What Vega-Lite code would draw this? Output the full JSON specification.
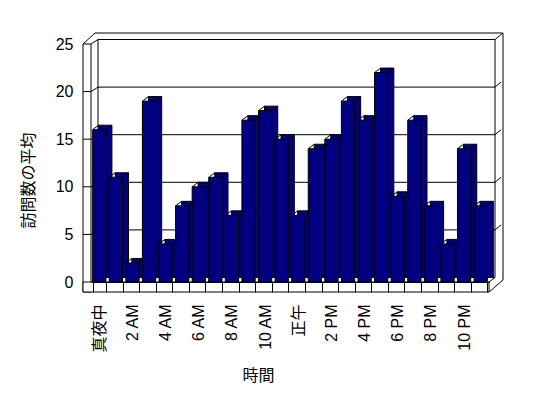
{
  "$schema": "https://vega.github.io/schema/vega-lite/v6.json",
  "width": 398,
  "height": 238,
  "autosize": {"type": "none"},
  "padding": {"left": 91, "top": 44, "right": 59, "bottom": 116},
  "background": "white",
  "config": {"view": {"stroke": null}, "font": "Liberation Sans"},
  "datasets": {
    "visits": [
      {"hour": "真夜中", "visits": 16},
      {"hour": "1 AM", "visits": 11},
      {"hour": "2 AM", "visits": 2},
      {"hour": "3 AM", "visits": 19},
      {"hour": "4 AM", "visits": 4},
      {"hour": "5 AM", "visits": 8},
      {"hour": "6 AM", "visits": 10},
      {"hour": "7 AM", "visits": 11},
      {"hour": "8 AM", "visits": 7},
      {"hour": "9 AM", "visits": 17},
      {"hour": "10 AM", "visits": 18},
      {"hour": "11 AM", "visits": 15},
      {"hour": "正午", "visits": 7},
      {"hour": "1 PM", "visits": 14},
      {"hour": "2 PM", "visits": 15},
      {"hour": "3 PM", "visits": 19},
      {"hour": "4 PM", "visits": 17},
      {"hour": "5 PM", "visits": 22},
      {"hour": "6 PM", "visits": 9},
      {"hour": "7 PM", "visits": 17},
      {"hour": "8 PM", "visits": 8},
      {"hour": "9 PM", "visits": 4},
      {"hour": "10 PM", "visits": 14},
      {"hour": "11 PM", "visits": 8}
    ],
    "grid": [{"v": 5}, {"v": 10}, {"v": 15}, {"v": 20}],
    "one": [{}]
  },
  "resolve": {"scale": {"x": "independent"}, "axis": {"x": "independent"}},
  "layer": [
    {
      "data": {"name": "one"},
      "mark": {"type": "rect", "fill": "white", "stroke": "black", "strokeWidth": 1, "xOffset": 7, "x2Offset": 6, "yOffset": -4.5, "y2Offset": -4.5},
      "encoding": {
        "x": {"datum": 0, "type": "quantitative", "scale": {"domain": [0, 24], "nice": false, "zero": false}, "axis": null},
        "x2": {"datum": 24},
        "y": {"datum": 0, "type": "quantitative"},
        "y2": {"datum": 25}
      }
    },
    {
      "data": {"name": "one"},
      "mark": {"type": "rule", "color": "black", "strokeWidth": 1, "xOffset": 4, "x2Offset": 14, "yOffset": -11},
      "encoding": {
        "x": {"datum": 0, "type": "quantitative", "scale": {"domain": [0, 24], "nice": false, "zero": false}, "axis": null},
        "x2": {"datum": 24},
        "y": {"datum": 25, "type": "quantitative"}
      }
    },
    {
      "data": {"name": "one"},
      "mark": {"type": "rule", "color": "black", "strokeWidth": 1, "xOffset": 14, "yOffset": -11, "y2Offset": -2},
      "encoding": {
        "x": {"datum": 24, "type": "quantitative", "scale": {"domain": [0, 24], "nice": false, "zero": false}, "axis": null},
        "y": {"datum": 25, "type": "quantitative"},
        "y2": {"datum": 0}
      }
    },
    {
      "data": {"name": "one"},
      "mark": {"type": "rule", "color": "black", "strokeWidth": 1, "xOffset": 6, "x2Offset": 14, "yOffset": -4.5, "y2Offset": -11},
      "encoding": {
        "x": {"datum": 24, "type": "quantitative", "scale": {"domain": [0, 24], "nice": false, "zero": false}, "axis": null},
        "x2": {"datum": 24},
        "y": {"datum": 25, "type": "quantitative"},
        "y2": {"datum": 25}
      }
    },
    {
      "data": {"name": "one"},
      "mark": {"type": "rule", "color": "black", "strokeWidth": 1, "xOffset": -8, "x2Offset": 4, "y2Offset": -11},
      "encoding": {
        "x": {"datum": 0, "type": "quantitative", "scale": {"domain": [0, 24], "nice": false, "zero": false}, "axis": null},
        "x2": {"datum": 0},
        "y": {"datum": 25, "type": "quantitative"},
        "y2": {"datum": 25}
      }
    },
    {
      "data": {"name": "one"},
      "mark": {"type": "rule", "color": "black", "strokeWidth": 1, "x2Offset": 7, "y2Offset": -4.5},
      "encoding": {
        "x": {"datum": 0, "type": "quantitative", "scale": {"domain": [0, 24], "nice": false, "zero": false}, "axis": null},
        "x2": {"datum": 0},
        "y": {"datum": 25, "type": "quantitative"},
        "y2": {"datum": 25}
      }
    },
    {
      "data": {"name": "one"},
      "mark": {"type": "rect", "fill": "white", "stroke": "black", "strokeWidth": 1, "xOffset": -8, "y2Offset": 10},
      "encoding": {
        "x": {"datum": 0, "type": "quantitative", "scale": {"domain": [0, 24], "nice": false, "zero": false}, "axis": null},
        "x2": {"datum": 0},
        "y": {"datum": 25, "type": "quantitative"},
        "y2": {"datum": 0}
      }
    },
    {
      "data": {"name": "grid"},
      "mark": {"type": "rule", "color": "black", "strokeWidth": 1, "xOffset": 7, "x2Offset": 6, "yOffset": -4.5},
      "encoding": {
        "x": {"datum": 0, "type": "quantitative", "scale": {"domain": [0, 24], "nice": false, "zero": false}, "axis": null},
        "x2": {"datum": 24},
        "y": {"field": "v", "type": "quantitative", "title": "訪問数の平均"}
      }
    },
    {
      "data": {"name": "grid"},
      "mark": {"type": "rule", "color": "black", "strokeWidth": 1, "x2Offset": 7, "y2Offset": -4.5},
      "encoding": {
        "x": {"datum": 0, "type": "quantitative", "scale": {"domain": [0, 24], "nice": false, "zero": false}, "axis": null},
        "x2": {"datum": 0},
        "y": {"field": "v", "type": "quantitative", "title": "訪問数の平均"},
        "y2": {"field": "v"}
      }
    },
    {
      "data": {"name": "grid"},
      "mark": {"type": "rule", "color": "black", "strokeWidth": 1, "xOffset": -8},
      "encoding": {
        "x": {"datum": 0, "type": "quantitative", "scale": {"domain": [0, 24], "nice": false, "zero": false}, "axis": null},
        "x2": {"datum": 0},
        "y": {"field": "v", "type": "quantitative", "title": "訪問数の平均"}
      }
    },
    {
      "data": {"name": "grid"},
      "mark": {"type": "rule", "color": "black", "strokeWidth": 1, "xOffset": 6, "x2Offset": 12, "yOffset": -4.5, "y2Offset": -9.5},
      "encoding": {
        "x": {"datum": 24, "type": "quantitative", "scale": {"domain": [0, 24], "nice": false, "zero": false}, "axis": null},
        "x2": {"datum": 24},
        "y": {"field": "v", "type": "quantitative", "title": "訪問数の平均"},
        "y2": {"field": "v"}
      }
    },
    {
      "data": {"name": "one"},
      "mark": {"type": "rect", "fill": "white", "stroke": "black", "strokeWidth": 1, "xOffset": -8, "y2Offset": 10},
      "encoding": {
        "x": {"datum": 0, "type": "quantitative", "scale": {"domain": [0, 24], "nice": false, "zero": false}, "axis": null},
        "x2": {"datum": 24},
        "y": {"datum": 0, "type": "quantitative"},
        "y2": {"datum": 0}
      }
    },
    {
      "data": {"name": "one"},
      "mark": {"type": "rule", "color": "black", "strokeWidth": 1, "x2Offset": 14, "yOffset": 10, "y2Offset": -2},
      "encoding": {
        "x": {"datum": 24, "type": "quantitative", "scale": {"domain": [0, 24], "nice": false, "zero": false}, "axis": null},
        "x2": {"datum": 24},
        "y": {"datum": 0, "type": "quantitative"},
        "y2": {"datum": 0}
      }
    },
    {
      "data": {"name": "one"},
      "mark": {"type": "rule", "color": "black", "strokeWidth": 1, "x2Offset": 6, "y2Offset": -4.5},
      "encoding": {
        "x": {"datum": 24, "type": "quantitative", "scale": {"domain": [0, 24], "nice": false, "zero": false}, "axis": null},
        "x2": {"datum": 24},
        "y": {"datum": 0, "type": "quantitative"},
        "y2": {"datum": 0}
      }
    },
    {
      "data": {"name": "visits"},
      "mark": {"type": "bar", "fill": "#000080", "stroke": "black", "strokeWidth": 1, "xOffset": 6, "yOffset": -4.5, "y2Offset": -4.5},
      "encoding": {
        "x": {"field": "hour", "type": "nominal", "sort": null, "scale": {"type": "band", "paddingInner": 0.2, "paddingOuter": 0.1}, "axis": null},
        "y": {"field": "visits", "type": "quantitative", "title": "訪問数の平均"}
      }
    },
    {
      "data": {"name": "visits"},
      "mark": {"type": "bar", "fill": "#000080", "stroke": "black", "strokeWidth": 1},
      "encoding": {
        "x": {
          "field": "hour", "type": "nominal", "sort": null,
          "scale": {"type": "band", "paddingInner": 0.2, "paddingOuter": 0.1},
          "axis": {
            "title": "時間",
            "labelAngle": 270,
            "labelExpr": "indexof(['1 AM','3 AM','5 AM','7 AM','9 AM','11 AM','1 PM','3 PM','5 PM','7 PM','9 PM','11 PM'], datum.value) >= 0 ? '' : datum.label",
            "tickBand": "extent",
            "tickSize": 10,
            "tickColor": "black",
            "domainColor": "black",
            "labelPadding": 12,
            "labelFont": "Liberation Sans, Noto Sans CJK JP",
            "labelFontSize": 16,
            "labelColor": "black",
            "labelOverlap": false,
            "titleFont": "Noto Sans CJK JP",
            "titleFontSize": 16,
            "titleFontWeight": "normal",
            "titleColor": "black",
            "titleX": 167,
            "titleY": 93,
            "titleBaseline": "middle",
            "zindex": 1,
            "grid": false
          }
        },
        "y": {
          "field": "visits", "type": "quantitative",
          "scale": {"domain": [0, 25], "nice": false},
          "axis": {
            "title": "訪問数の平均",
            "values": [0, 5, 10, 15, 20, 25],
            "offset": 8,
            "domain": false,
            "ticks": false,
            "grid": false,
            "labelPadding": 10,
            "labelFont": "Liberation Sans",
            "labelFontSize": 16,
            "labelColor": "black",
            "titleFont": "Noto Sans CJK JP",
            "titleFontSize": 16,
            "titleFontWeight": "normal",
            "titleColor": "black",
            "titleAngle": 270,
            "titleX": -55,
            "titleY": 136,
            "titleAlign": "center",
            "titleBaseline": "middle"
          }
        }
      }
    },
    {
      "data": {"name": "visits"},
      "mark": {"type": "rule", "color": "black", "strokeWidth": 1, "x2Offset": 6, "y2Offset": -4.5},
      "encoding": {
        "x": {"field": "hour", "type": "nominal", "sort": null, "bandPosition": 0, "scale": {"type": "band", "paddingInner": 0.2, "paddingOuter": 0.1}, "axis": null},
        "x2": {"field": "hour", "bandPosition": 0},
        "y": {"field": "visits", "type": "quantitative", "title": "訪問数の平均"},
        "y2": {"field": "visits"}
      }
    },
    {
      "data": {"name": "visits"},
      "mark": {"type": "rule", "color": "black", "strokeWidth": 1, "x2Offset": 6, "y2Offset": -4.5},
      "encoding": {
        "x": {"field": "hour", "type": "nominal", "sort": null, "bandPosition": 1, "scale": {"type": "band", "paddingInner": 0.2, "paddingOuter": 0.1}, "axis": null},
        "x2": {"field": "hour", "bandPosition": 1},
        "y": {"field": "visits", "type": "quantitative", "title": "訪問数の平均"},
        "y2": {"field": "visits"}
      }
    }
  ]
}
